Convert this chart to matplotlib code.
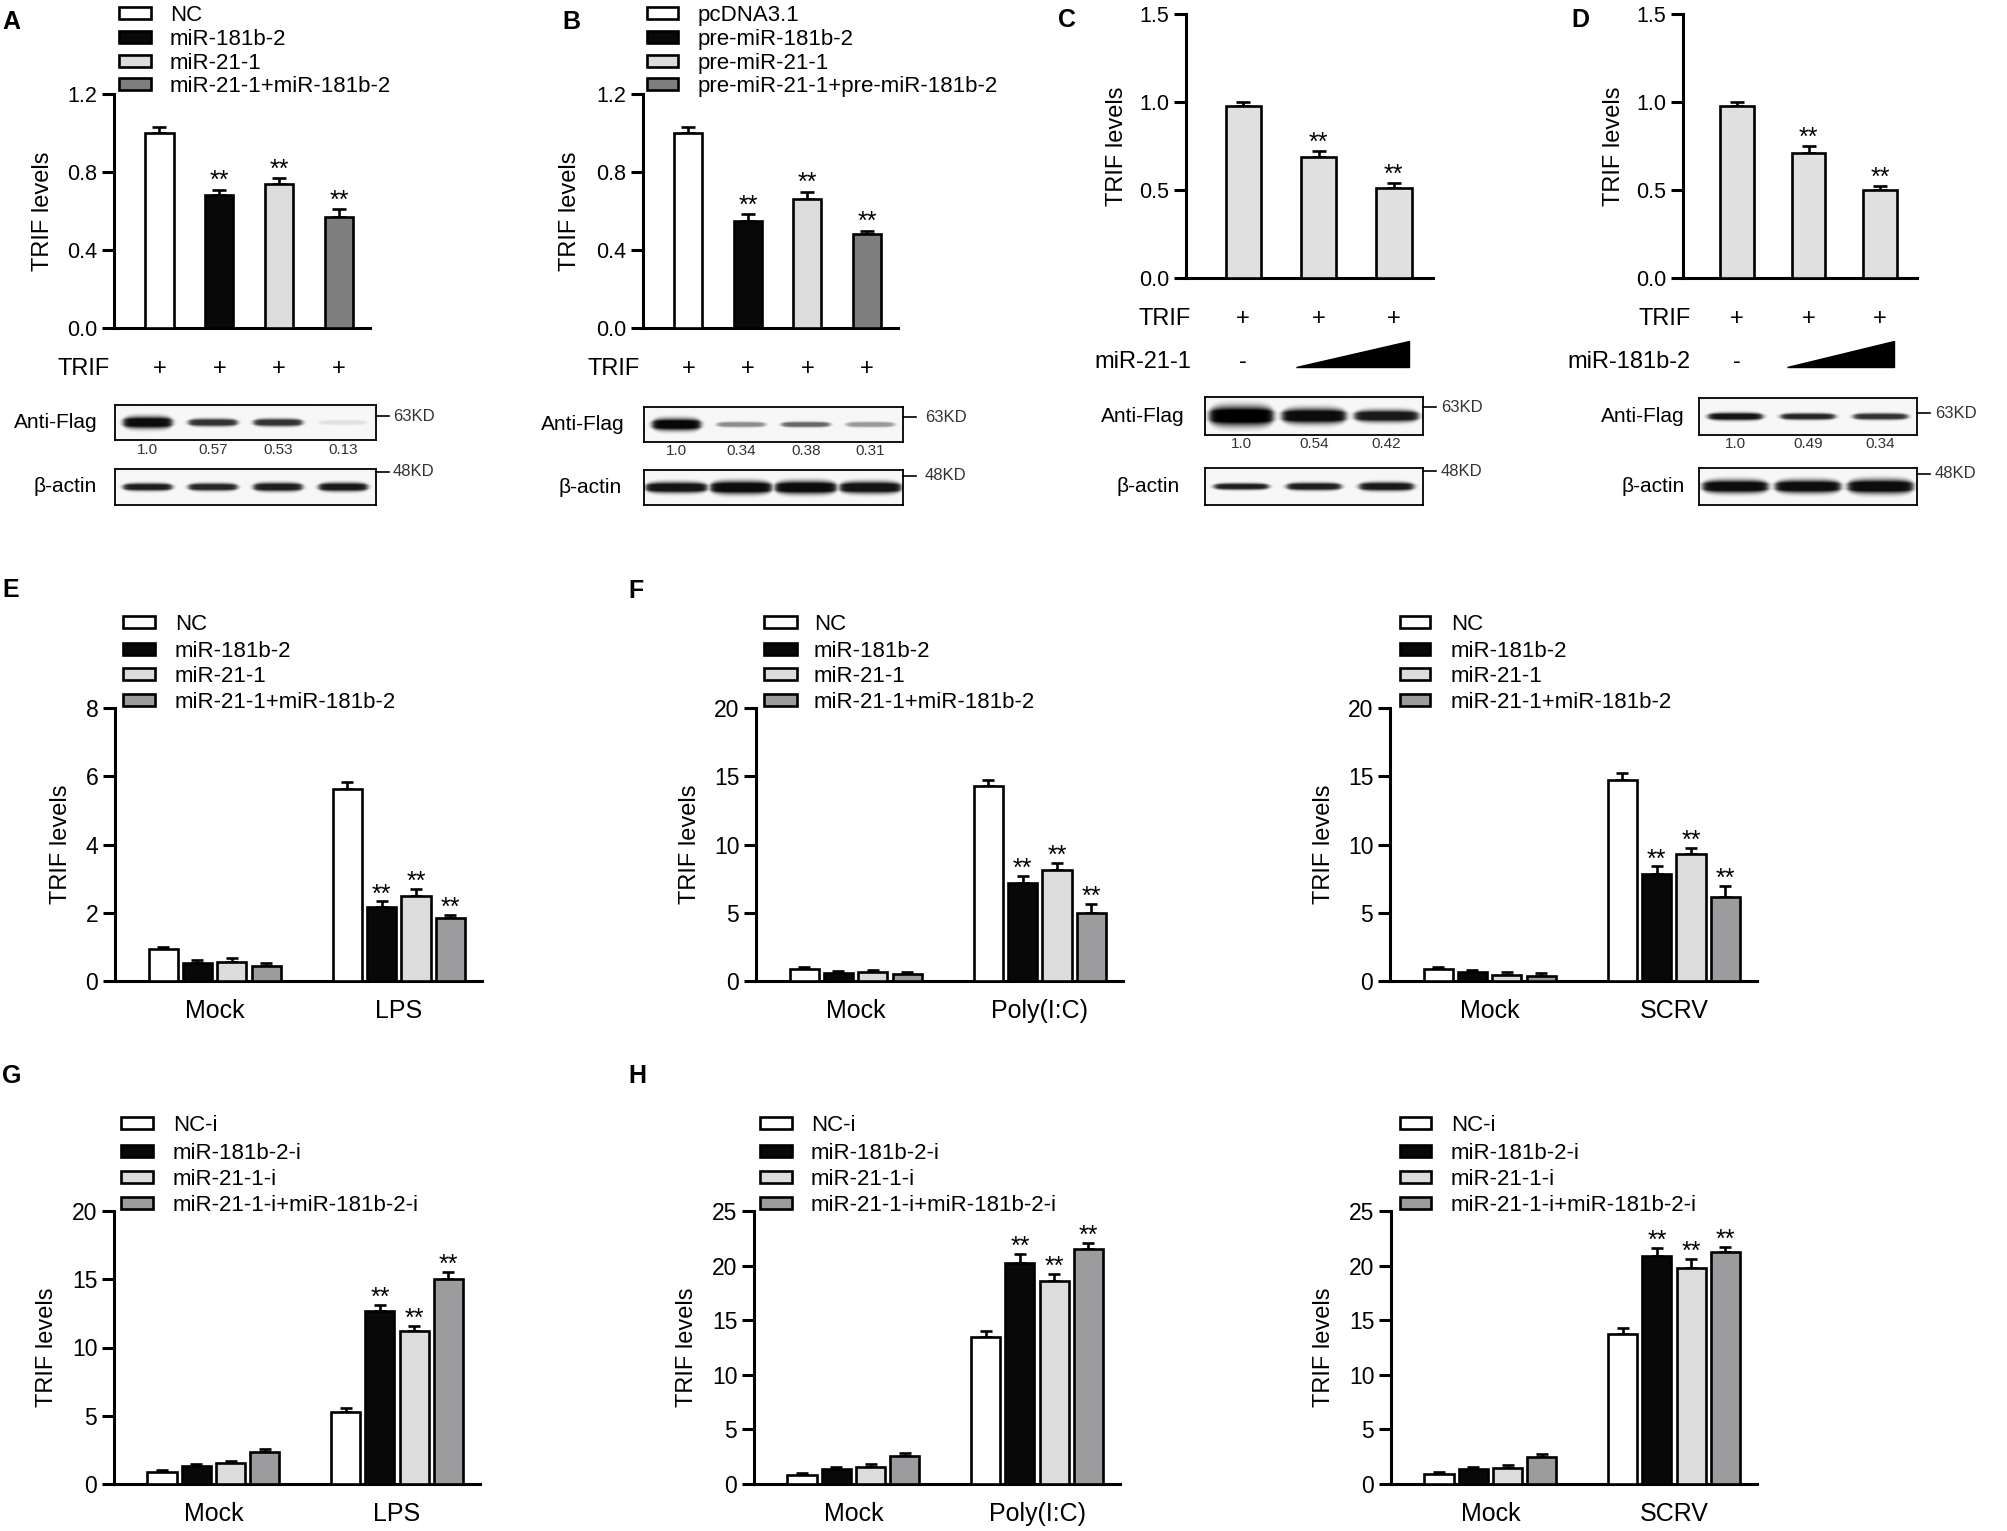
import numpy as np
import matplotlib
matplotlib.use('Agg')
import matplotlib.pyplot as plt
from matplotlib.patches import Rectangle, Polygon
from matplotlib import transforms

plt.rcParams['font.family'] = ['Liberation Sans', 'DejaVu Sans']

# ------------------------------------------------------------------ data
a_labels = ['NC', 'miR-181b-2', 'miR-21-1', 'miR-21-1+miR-181b-2']
a_values = [1.00, 0.68, 0.74, 0.57]
a_errors = [0.03, 0.03, 0.03, 0.04]
a_sig = ['', '**', '**', '**']
a_flag_quant = ['1.0', '0.57', '0.53', '0.13']
a_flag_band = [0.95, 0.80, 0.80, 0.12]
a_actin_band = [0.88, 0.85, 0.88, 0.90]

b_labels = ['pcDNA3.1', 'pre-miR-181b-2', 'pre-miR-21-1', 'pre-miR-21-1+pre-miR-181b-2']
b_values = [1.00, 0.55, 0.66, 0.48]
b_errors = [0.03, 0.035, 0.04, 0.02]
b_sig = ['', '**', '**', '**']
b_flag_quant = ['1.0', '0.34', '0.38', '0.31']
b_flag_band = [0.97, 0.45, 0.60, 0.40]
b_actin_band = [0.92, 0.95, 0.95, 0.92]

c_treat = 'miR-21-1'
c_values = [0.98, 0.69, 0.51]
c_errors = [0.02, 0.03, 0.03]
c_sig = ['', '**', '**']
c_flag_quant = ['1.0', '0.54', '0.42']
c_flag_band = [1.0, 0.95, 0.90]
c_actin_band = [0.88, 0.88, 0.90]

d_treat = 'miR-181b-2'
d_values = [0.98, 0.71, 0.50]
d_errors = [0.02, 0.04, 0.02]
d_sig = ['', '**', '**']
d_flag_quant = ['1.0', '0.49', '0.34']
d_flag_band = [0.92, 0.85, 0.80]
d_actin_band = [0.95, 0.95, 0.95]

mimic_labels = ['NC', 'miR-181b-2', 'miR-21-1', 'miR-21-1+miR-181b-2']
inhib_labels = ['NC-i', 'miR-181b-2-i', 'miR-21-1-i', 'miR-21-1-i+miR-181b-2-i']
groups_lps = ['Mock', 'LPS']
groups_poly = ['Mock', 'Poly(I:C)']
groups_scrv = ['Mock', 'SCRV']
series_sig = ['', '**', '**', '**']   # significance in the stimulated group

# series order: NC, miR-181b-2, miR-21-1, combo ; values per group (Mock, stimulus)
e_values = [[0.93, 5.62], [0.54, 2.16], [0.57, 2.49], [0.44, 1.84]]
e_errors = [[0.07, 0.20], [0.08, 0.17], [0.09, 0.20], [0.08, 0.10]]
f_values = [[0.86, 14.25], [0.56, 7.21], [0.66, 8.14], [0.49, 5.01]]
f_errors = [[0.19, 0.49], [0.17, 0.49], [0.15, 0.49], [0.15, 0.61]]
f2_values = [[0.88, 14.74], [0.64, 7.85], [0.44, 9.32], [0.39, 6.19]]
f2_errors = [[0.17, 0.49], [0.17, 0.54], [0.20, 0.46], [0.17, 0.80]]
g_values = [[0.85, 5.25], [1.32, 12.67], [1.51, 11.23], [2.37, 15.00]]
g_errors = [[0.18, 0.34], [0.15, 0.44], [0.20, 0.37], [0.19, 0.56]]
h_values = [[0.82, 13.43], [1.34, 20.27], [1.59, 18.62], [2.56, 21.52]]
h_errors = [[0.22, 0.61], [0.19, 0.76], [0.21, 0.61], [0.25, 0.52]]
h2_values = [[0.89, 13.74], [1.34, 20.88], [1.50, 19.81], [2.50, 21.20]]
h2_errors = [[0.24, 0.52], [0.19, 0.70], [0.24, 0.79], [0.22, 0.53]]

# ------------------------------------------------------------------ style
W, H = 2008, 1531
fig = plt.figure(figsize=(W / 100, H / 100), dpi=100)
fig.patch.set_facecolor('white')

COL_AB = ['#ffffff', '#080808', '#dcdcdc', '#7e7e7e']
COL_EH = ['#ffffff', '#080808', '#dcdcdc', '#9c9c9e']
COL_CD = '#e0e0e0'
LW = 1.9


def fx(x):
    return x / W


def fy(y):
    return 1 - y / H


def px_axes(x0, y0, x1, y1):
    return fig.add_axes([x0 / W, 1 - y1 / H, (x1 - x0) / W, (y1 - y0) / H])


def style_axes(ax, ytick_size):
    for s in ['top', 'right']:
        ax.spines[s].set_visible(False)
    for s in ['left', 'bottom']:
        ax.spines[s].set_linewidth(2.2)
    ax.tick_params(axis='y', length=9, width=2.2, pad=3, labelsize=ytick_size)


def legend_px(labels, colors, px0, px1, tx, ys, fs=16, ph=12):
    for lab, col, y in zip(labels, colors, ys):
        fig.patches.append(Rectangle((fx(px0), fy(y + ph / 2)), (px1 - px0) / W, ph / H,
                                     transform=fig.transFigure, facecolor=col,
                                     edgecolor='black', lw=LW))
        fig.text(fx(tx), fy(y), lab, ha='left', va='center_baseline', fontsize=fs)


def ylabel_px(x, y):
    fig.text(fx(x), fy(y), 'TRIF levels', rotation=90, ha='center', va='center', fontsize=17)


def panel_letter(x, y, s):
    fig.text(fx(x), fy(y), s, ha='left', va='center', fontsize=18, fontweight='bold')


def simple_bars(box, vals, errs, colors, ylim, yticks, fmt, sig, ylx):
    x0, y0, x1, y1 = box
    ax = px_axes(x0, y0, x1, y1)
    n = len(vals)
    x = np.arange(n)
    ax.bar(x, vals, width=0.47, color=colors, edgecolor='black', linewidth=LW, zorder=3)
    ax.errorbar(x, vals, yerr=[np.zeros(n), errs], fmt='none', ecolor='black',
                elinewidth=LW, capsize=5, capthick=LW, zorder=2)
    for xi, v, e, s in zip(x, vals, errs, sig):
        if s:
            ax.annotate(s, (xi, v + e), xytext=(0, 1), textcoords='offset points',
                        ha='center', va='baseline', fontsize=18)
    ax.set_xlim(-0.76, n - 0.48)
    ax.set_ylim(*ylim)
    ax.set_yticks(yticks)
    ax.set_yticklabels([fmt % t for t in yticks])
    ax.set_xticks([])
    style_axes(ax, 15.5)
    ylabel_px(ylx, (y0 + y1) / 2)
    return ax


def draw_blot(box, strengths, thick_px, wfrac=0.75):
    x0, y0, x1, y1 = box
    ax = px_axes(x0, y0, x1, y1)
    n = len(strengths)
    bh = y1 - y0
    xs = np.linspace(0, n, 600)
    ys = np.linspace(0, 1, 80)
    X, Y = np.meshgrid(xs, ys)
    img = np.full(X.shape, 0.035)
    for i, (s, t) in enumerate(zip(strengths, thick_px)):
        cx = i + 0.5
        hw = wfrac / 2
        hx = 0.5 * (np.tanh((X - (cx - hw)) / 0.05) - np.tanh((X - (cx + hw)) / 0.05))
        taper = np.clip(1 - ((X - cx) / (hw + 0.05)) ** 4, 0.25, 1)
        sig = t / (2.0 * bh) * (0.45 + 0.55 * taper)
        vy = np.clip(1.5 * np.exp(-((Y - 0.5) / sig) ** 2), 0, 1)
        img = np.maximum(img, s * hx * vy)
    ax.imshow(img, cmap='gray_r', vmin=0, vmax=1, extent=[0, n, 0, 1], aspect='auto',
              origin='lower', interpolation='bilinear')
    ax.set_xlim(0, n)
    ax.set_ylim(0, 1)
    ax.set_xticks([])
    ax.set_yticks([])
    for s in ax.spines.values():
        s.set_linewidth(1.3)
    return ax


def blot_block(flag_box, actin_box, flag_band, flag_thick, actin_band, actin_thick,
               quant, flag_lab_x, actin_lab_x, quant_y, kd63_y, kd48_y, kd_x_text,
               flag_w=0.75, actin_w=0.75):
    axf = draw_blot(flag_box, flag_band, flag_thick, flag_w)
    draw_blot(actin_box, actin_band, actin_thick, actin_w)
    fig.text(fx(flag_lab_x), fy((flag_box[1] + flag_box[3]) / 2), 'Anti-Flag',
             ha='right', va='center', fontsize=15)
    fig.text(fx(actin_lab_x), fy((actin_box[1] + actin_box[3]) / 2), 'β-actin',
             ha='right', va='center', fontsize=15)
    trans = transforms.blended_transform_factory(axf.transData, fig.transFigure)
    for i, q in enumerate(quant):
        axf.text(i + 0.5, fy(quant_y), q, transform=trans, ha='center', va='center',
                 fontsize=11, color='#333333')
    right = flag_box[2]
    for yy, lab in [(kd63_y, '63KD'), (kd48_y, '48KD')]:
        fig.lines.append(plt.Line2D([fx(right), fx(right + 13)], [fy(yy), fy(yy)],
                                    transform=fig.transFigure, color='black', lw=1.2))
        fig.text(fx(kd_x_text), fy(yy), lab, ha='left', va='center', fontsize=12,
                 color='#333333')


def sign_row(ax, y, label, label_right, marks):
    trans = transforms.blended_transform_factory(ax.transData, fig.transFigure)
    fig.text(fx(label_right), fy(y), label, ha='right', va='center', fontsize=17)
    for i, m in enumerate(marks):
        ax.text(i, fy(y), m, transform=trans, ha='center', va='center', fontsize=17)


def ramp_row(ax, y, label, label_right, y_top, y_bot):
    trans = transforms.blended_transform_factory(ax.transData, fig.transFigure)
    fig.text(fx(label_right), fy(y), label, ha='right', va='center', fontsize=17)
    ax.text(0, fy(y), '-', transform=trans, ha='center', va='center', fontsize=17)
    tri = Polygon([(0.7, fy(y_bot)), (2.2, fy(y_bot)), (2.2, fy(y_top))], closed=True,
                  transform=trans, facecolor='black', edgecolor='black', clip_on=False)
    ax.add_patch(tri)


def grouped_panel(box, groups, values, errors, colors, ytop, ystep, ylx):
    x0, y0, x1, y1 = box
    ax = px_axes(x0, y0, x1, y1)
    gap = 5.36
    gx = np.arange(len(groups)) * gap
    for i, (vals, errs, col) in enumerate(zip(values, errors, colors)):
        xs = gx + (i - 1.5)
        ax.bar(xs, vals, width=0.85, color=col, edgecolor='black', linewidth=LW, zorder=3)
        ax.errorbar(xs, vals, yerr=[np.zeros(len(vals)), errs], fmt='none', ecolor='black',
                    elinewidth=LW, capsize=4, capthick=LW, zorder=2)
        if series_sig[i]:
            ax.annotate(series_sig[i], (xs[-1], vals[-1] + errs[-1]), xytext=(0, 0),
                        textcoords='offset points', ha='center', va='baseline', fontsize=18)
    ax.set_xlim(-2.9, gx[-1] + 2.42)
    ax.set_ylim(0, ytop)
    ax.set_yticks(np.arange(0, ytop + 0.01, ystep))
    ax.set_yticklabels(['%g' % t for t in np.arange(0, ytop + 0.01, ystep)])
    ax.set_xticks(gx)
    ax.set_xticklabels(groups, fontsize=18)
    ax.tick_params(axis='x', length=0, pad=13)
    style_axes(ax, 16.5)
    ylabel_px(ylx, (y0 + y1) / 2)
    return ax


# ------------------------------------------------------------------ panel A
panel_letter(2, 22, 'A')
legend_px(a_labels, COL_AB, 119, 151, 170, [13, 37, 61, 84])
axA = simple_bars((114, 94, 370, 328), a_values, a_errors, COL_AB, (0, 1.2),
                  [0.0, 0.4, 0.8, 1.2], '%.1f', a_sig, 43)
sign_row(axA, 369, 'TRIF', 110, ['+'] * len(a_values))
blot_block((115, 405, 376, 440), (115, 469, 376, 505), a_flag_band, [11, 7, 7, 5],
           a_actin_band, [7, 7, 8, 8], a_flag_quant, 98, 97, 450, 416, 472, 393)

# ------------------------------------------------------------------ panel B
panel_letter(562, 22, 'B')
legend_px(b_labels, COL_AB, 647, 678, 698, [13, 37, 61, 84])
axB = simple_bars((643, 94, 898, 328), b_values, b_errors, COL_AB, (0, 1.2),
                  [0.0, 0.4, 0.8, 1.2], '%.1f', b_sig, 570)
sign_row(axB, 369, 'TRIF', 640, ['+'] * len(b_values))
blot_block((644, 407, 903, 442), (644, 470, 903, 505), b_flag_band, [11, 5, 5, 5],
           b_actin_band, [10, 12, 12, 11], b_flag_quant, 625, 622, 451, 417, 476, 925,
           actin_w=0.95)

# ------------------------------------------------------------------ panel C
panel_letter(1058, 20, 'C')
axC = simple_bars((1186, 14, 1433, 278), c_values, c_errors, [COL_CD] * 3, (0, 1.5),
                  [0.0, 0.5, 1.0, 1.5], '%.1f', c_sig, 1117)
sign_row(axC, 319, 'TRIF', 1191, ['+'] * len(c_values))
ramp_row(axC, 362, c_treat, 1191, 341, 367)
blot_block((1205, 397, 1423, 435), (1205, 468, 1423, 505), c_flag_band, [18, 14, 11],
           c_actin_band, [6, 7, 8], c_flag_quant, 1185, 1180, 444, 407, 471, 1441,
           flag_w=0.88)

# ------------------------------------------------------------------ panel D
panel_letter(1571, 20, 'D')
axD = simple_bars((1683, 14, 1917, 278), d_values, d_errors, [COL_CD] * 3, (0, 1.5),
                  [0.0, 0.5, 1.0, 1.5], '%.1f', d_sig, 1614)
sign_row(axD, 319, 'TRIF', 1691, ['+'] * len(d_values))
ramp_row(axD, 362, d_treat, 1691, 341, 367)
blot_block((1699, 398, 1917, 435), (1699, 468, 1917, 505), d_flag_band, [7, 6, 6],
           d_actin_band, [12, 12, 13], d_flag_quant, 1685, 1685, 444, 413, 474, 1935,
           actin_w=0.9)

# ------------------------------------------------------------------ panels E / F
panel_letter(2, 590, 'E')
panel_letter(628, 591, 'F')
row1_legend_y = [622, 649, 674, 700]
legend_px(mimic_labels, COL_EH, 123, 155, 175, row1_legend_y)
legend_px(mimic_labels, COL_EH, 764, 797, 814, row1_legend_y)
legend_px(mimic_labels, COL_EH, 1400, 1430, 1451, row1_legend_y)
grouped_panel((115, 708, 482, 981), groups_lps, e_values, e_errors, COL_EH, 8, 2, 61)
grouped_panel((756, 708, 1123, 981), groups_poly, f_values, f_errors, COL_EH, 20, 5, 690)
grouped_panel((1390, 708, 1757, 981), groups_scrv, f2_values, f2_errors, COL_EH, 20, 5, 1324)

# ------------------------------------------------------------------ panels G / H
panel_letter(2, 1076, 'G')
panel_letter(628, 1076, 'H')
row2_legend_y = [1123, 1151, 1177, 1203]
legend_px(inhib_labels, COL_EH, 121, 153, 173, row2_legend_y)
legend_px(inhib_labels, COL_EH, 760, 792, 811, row2_legend_y)
legend_px(inhib_labels, COL_EH, 1400, 1431, 1451, row2_legend_y)
grouped_panel((114, 1211, 480, 1484), groups_lps, g_values, g_errors, COL_EH, 20, 5, 47)
grouped_panel((754, 1211, 1120, 1484), groups_poly, h_values, h_errors, COL_EH, 25, 5, 687)
grouped_panel((1391, 1211, 1757, 1484), groups_scrv, h2_values, h2_errors, COL_EH, 25, 5, 1324)

fig.savefig('out.png', dpi=100, facecolor='white')
